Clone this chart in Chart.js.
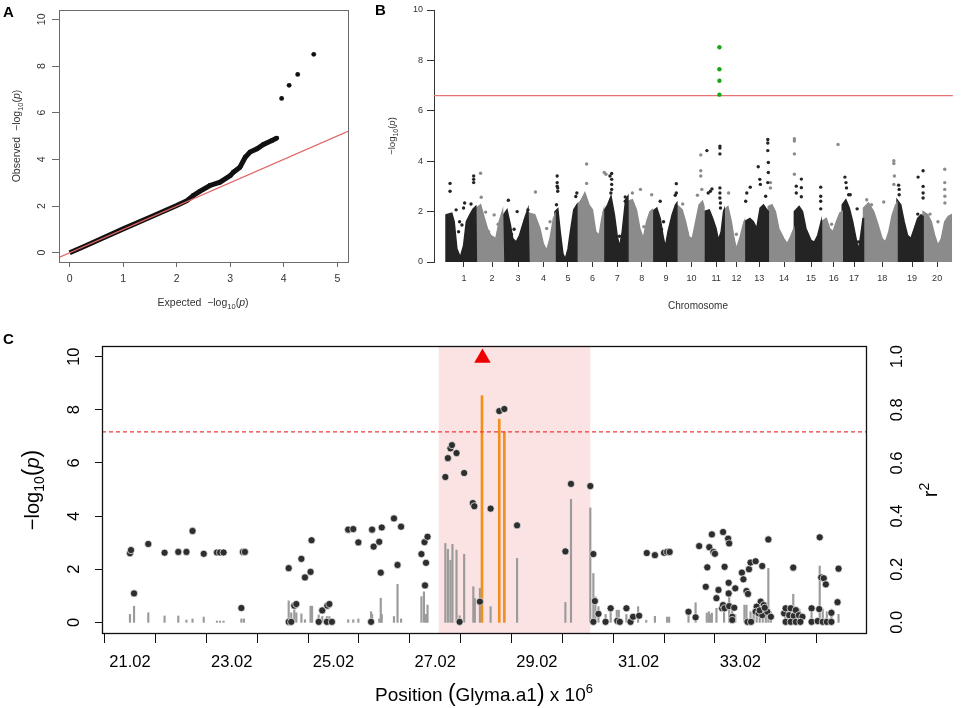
<!DOCTYPE html>
<html>
<head>
<meta charset="utf-8">
<script src="https://cdn.jsdelivr.net/npm/chart.js@4.4.1/dist/chart.umd.min.js"></script>
<style>
  body { margin: 0; background: #fff; width: 964px; height: 708px; position: relative; overflow: hidden;
         font-family: "Liberation Sans", Arial, Helvetica, sans-serif; }
  .panel { position: absolute; }
  .tag { position: absolute; font-weight: bold; font-size: 15px; line-height: 15px; z-index: 5; }
</style>
</head>
<body>
<div class="tag" style="left:3px;top:4px">A</div>
<div class="tag" style="left:375px;top:2px">B</div>
<div class="tag" style="left:3px;top:331px">C</div>
<div class="panel" style="left:0;top:0;width:360px;height:315px"><canvas id="qq"></canvas></div>
<div class="panel" style="left:360px;top:0;width:604px;height:315px"><canvas id="manhattan"></canvas></div>
<div class="panel" style="left:0;top:310px;width:964px;height:398px"><canvas id="region"></canvas></div>
<script>
// ---- A: QQ plot ----
const qqExpected = [0, 0.3, 0.6, 1.0, 1.5, 2.0, 2.19, 2.31, 2.43, 2.62, 2.81, 3.0, 3.06, 3.18, 3.28, 3.37, 3.5, 3.62, 3.78, 3.87];
const qqObserved = [0, 0.3, 0.61, 1.02, 1.52, 2.02, 2.23, 2.45, 2.63, 2.88, 3.02, 3.3, 3.45, 3.66, 4.09, 4.31, 4.45, 4.64, 4.81, 4.91];
const qqTopExpected = [3.96, 4.10, 4.26, 4.56];
const qqTopObserved = [6.61, 7.17, 7.64, 8.50];
const qqXTicks = [0, 1, 2, 3, 4, 5];
const qqYTicks = [0, 2, 4, 6, 8, 10];

// ---- B: Manhattan plot (x in cumulative Mb) ----
const chrLabels = ['1','2','3','4','5','6','7','8','9','10','11','12','13','14','15','16','17','18','19','20'];
const chrTickPos = [33.7, 86.5, 135.5, 183.3, 229.2, 275.6, 322.1, 368, 413.8, 461.6, 508, 546.4, 589, 635.5, 686.4, 729.1, 767.3, 820.1, 876.2, 923.4];
const chrEnvelopes = [
  [[0,0],[0,1.87],[10.8,1.94],[15.3,1.6],[20.4,0.52],[26.8,0.19],[33.1,0.66],[38.2,1.6],[44.6,1.87],[51,2.1],[56,2.2],[57,0]],
  [[57,0],[57,2.14],[65,2.27],[71.3,1.8],[77.7,1.33],[84,1.06],[93.6,0.93],[100,1.6],[106.3,2.03],[108,0]],
  [[108,0],[108,1.87],[114.7,2.07],[121,1.47],[125.5,0.93],[131.8,0.79],[138.2,1.06],[147.8,1.73],[154.1,2.11],[156,0]],
  [[156,0],[156,1.94],[166.9,1.87],[176.5,1.33],[182.8,0.73],[189.2,0.46],[195.6,0.93],[202,1.73],[205,1.87],[205,0]],
  [[205,0],[205,2.0],[210.2,2.11],[214.7,1.2],[219.8,0.32],[224.3,0.12],[229.4,0.52],[233.8,1.2],[240.2,2.07],[246,2.27],[246,0]],
  [[246,0],[246,2.27],[252.9,2.41],[261.1,2.74],[268.8,2.27],[275.2,2.07],[281.5,1.2],[287.9,1.06],[293,1.73],[296,2.0],[296,0]],
  [[296,0],[296,2.0],[303.9,2.27],[310.2,2.61],[316.6,1.87],[321.7,1.06],[326.2,0.59],[331.3,1.2],[337.7,2.47],[342,2.61],[342,0]],
  [[342,0],[342,2.41],[350.4,2.47],[358,2.07],[364.4,1.33],[370.8,0.93],[377.2,1.6],[383.5,2.0],[388,2.07],[388,0]],
  [[388,0],[388,2.0],[396.3,2.14],[402.7,1.73],[407.8,1.06],[412.3,0.59],[417.4,1.2],[425,1.87],[431.4,2.27],[434,2.34],[434,0]],
  [[434,0],[434,2.27],[444,2.07],[450.4,1.6],[456.8,1.0],[463.1,0.93],[469.5,1.6],[475.9,2.27],[482.2,2.41],[485,2.2],[485,0]],
  [[485,0],[485,2.0],[495,2.07],[501.4,1.73],[507.7,1.33],[512.2,0.86],[517.3,1.2],[521.8,2.0],[523,2.07],[523,0]],
  [[523,0],[523,2.07],[530,2.2],[536.4,1.6],[541.5,0.93],[546,0.52],[552.3,0.93],[558.7,1.47],[561,1.6],[561,0]],
  [[561,0],[561,1.6],[571.4,1.73],[577.8,1.6],[584.2,1.33],[590.6,2.14],[596.9,2.27],[603.3,2.07],[606,2.0],[606,0]],
  [[606,0],[606,2.2],[612.8,2.27],[619.2,2.0],[625.6,1.33],[635.1,0.93],[641.5,0.73],[647.9,1.0],[654.2,1.33],[655,1.2],[655,0]],
  [[655,0],[655,2.0],[663.9,2.2],[670.3,2.0],[676.7,1.33],[686.2,0.86],[692.6,0.79],[699,1.06],[705.3,1.6],[706,1.67],[706,0]],
  [[706,0],[706,1.6],[714.9,1.73],[721.3,1.33],[727.7,1.2],[734,1.6],[740.4,1.94],[745,2.0],[745,0]],
  [[745,0],[745,2.27],[751.8,2.47],[758.2,2.14],[764.6,1.6],[770.9,0.93],[775.4,0.46],[779.8,1.06],[784,1.73],[785,1.73],[785,0]],
  [[785,0],[785,2.14],[794.4,2.34],[804,2.0],[810.4,1.6],[819.9,0.93],[826.3,0.79],[832.6,1.2],[839,1.87],[845.4,2.27],[848,2.34],[848,0]],
  [[848,0],[848,2.47],[855,2.27],[861.4,1.6],[867.7,1.06],[874.1,0.93],[880.5,1.33],[886.8,1.73],[893.2,1.87],[897,1.8],[897,0]],
  [[897,0],[897,2.0],[905.9,1.87],[912.3,1.6],[918.6,1.06],[925,0.66],[931.4,0.93],[937.7,1.6],[944.1,1.8],[950,1.87],[950,0]]
];
const peaksBlack = [
  [7.6,3.12],[7.6,2.81],[19,2.07],[33,2.14],[35,2.34],[25.5,1.6],[30,1.47],[23.6,1.2],[52,3.41],[52,3.28],[52,3.15],[47,2.3],
  [117.2,2.45],[133.8,2.0],[128,1.3],[123,1.1],[154,2.07],
  [209,3.41],[209,3.15],[209,3.01],[210,2.94],[210,2.81],[207.7,2.27],[246,2.74],[244,2.6],
  [311.5,3.51],[311.5,3.28],[311.5,3.08],[311.5,2.88],[310,2.74],[308.3,3.41],[326.2,1.02],[337,2.58],[337,2.41],
  [402.7,2.41],[433,3.11],[433,2.74],[431,2.65],[409,1.6],[405,1.3],
  [490.5,4.42],[497,2.81],[493,2.74],[500,2.9],[515,4.6],[515,4.52],[515,4.29],[515,2.94],[515,2.74],[515,2.54],[516,2.34],[516,2.14],[516,1.0],
  [563.5,2.41],[565.5,2.74],[572,2.97],[587,3.78],[590,3.28],[591,3.08],[605,4.86],[605,4.72],[605,4.42],[606,3.95],[606,3.55],[605,3.15],[601,2.61],
  [658.6,3.01],[658.6,2.74],[668.1,3.29],[668.1,2.95],[668.1,2.59],[704.5,2.97],[704.5,2.61],[704.5,2.41],[704.5,2.11],
  [750,3.37],[752,3.15],[753,2.94],[757,2.67],[760,2.67],[773,2.11],[775,0.8],
  [851,3.05],[852,2.88],[852,2.67],[887.6,3.37],[887,1.9],[897,3.62],[897,3.0],[897,2.74],[897,2.54]
];
const peaksGray = [
  [65,3.52],[66.2,2.57],[74.5,1.98],[90.5,1.87],[80,1.2],[98,1.5],
  [168.2,2.78],[189.2,1.33],[195.6,1.6],[175,1.1],
  [264.3,3.89],[264.3,3.12],[259.3,2.54],[278,0.52],[297.5,3.55],[300.7,3.48],[255,2.4],
  [350.4,2.74],[365.6,2.88],[386.7,2.67],[354.8,1.94],[372,1.4],
  [479,4.25],[479,3.62],[479,3.41],[481,2.88],[472.7,2.65],[453.5,1.13],[445,2.3],
  [531.3,2.74],[536,1.3],[540,0.9],[546,1.1],
  [610,3.15],[610,2.94],[638,0.59],[655,4.89],[655,4.8],[655,4.29],[655,3.48],
  [737.1,4.66],[715,1.6],[725,1.5],
  [842,4.02],[842,3.91],[843,3.41],[842,3.08],[823,2.38],[791,2.47],[800,2.27],
  [937.7,3.68],[937.7,3.15],[937.7,2.88],[938,2.61],[938,2.34],[925,1.6],[910,1.9]
];
const peaksSignificant = [[514,8.52],[514,7.65],[514,7.19],[514,6.64]];
const mhThreshold = 6.6;

// ---- C: regional plot ----
const snpPoints = [
  [21.02,2.60],[21.04,2.72],[21.10,1.09],[21.38,2.95],[21.70,2.62],[21.97,2.65],[22.13,2.65],[22.25,3.44],[22.47,2.58],
  [22.73,2.63],[22.79,2.63],[22.86,2.63],[23.21,0.54],[23.24,2.65],[23.28,2.65],
  [24.14,2.04],[24.14,0.02],[24.19,0.02],[24.25,0.63],[24.29,0.69],[24.39,2.39],[24.46,1.69],[24.57,1.90],[24.59,3.09],
  [24.73,0.02],[24.80,0.45],[24.89,0.02],[24.90,0.63],[24.94,0.69],[24.99,0.02],
  [25.31,3.49],[25.41,3.51],[25.51,3.01],[25.76,0.02],[25.78,3.49],[25.81,2.85],[25.92,3.03],[25.95,1.87],[25.97,3.57],
  [26.21,3.91],[26.28,2.16],[26.35,3.60],[26.75,2.57],[26.81,3.02],[26.82,1.39],[26.84,2.24],[26.87,3.22],
  [27.22,5.47],[27.27,6.18],[27.32,6.55],[27.35,6.67],[27.44,6.37],[27.50,0.02],[27.59,5.62],[27.76,4.49],[27.79,4.37],
  [27.90,0.78],[28.11,4.28],[28.28,7.95],[28.38,8.03],[28.63,3.65],
  [29.58,2.67],[29.69,5.21],[30.07,5.13],[30.13,2.57],[30.13,0.02],[30.16,0.80],[30.23,0.32],[30.37,0.02],[30.47,0.53],
  [30.60,0.06],[30.65,0.02],[30.78,0.53],[30.86,0.02],[30.91,0.21],[31.03,0.25],
  [31.18,2.61],[31.34,2.53],[31.52,2.62],[31.58,2.65],[31.63,2.65],
  [32.00,0.40],[32.14,0.19],[32.21,2.87],[32.34,1.34],[32.37,2.07],[32.41,2.83],[32.46,3.31],[32.49,2.65],[32.52,2.58],
  [32.55,0.91],[32.59,1.22],[32.66,0.53],[32.68,3.40],[32.68,0.65],[32.71,2.09],[32.71,0.53],[32.78,3.15],[32.79,1.49],
  [32.79,1.09],[32.80,2.97],[32.80,0.61],[32.86,0.21],[32.86,0.09],[32.90,0.55],[32.92,1.28],
  [33.05,1.87],[33.08,1.62],[33.14,1.18],[33.16,0.02],[33.17,1.07],[33.19,2.00],[33.22,2.25],[33.23,0.02],[33.32,2.30],
  [33.45,2.12],[33.57,3.12],[33.42,0.78],[33.48,0.65],[33.34,0.59],[33.32,0.40],[33.38,0.34],[33.45,0.27],[33.55,0.40],
  [33.62,0.21],[33.40,0.45],[33.50,0.55],
  [33.88,0.34],[33.91,0.53],[33.98,0.27],[34.01,0.53],[34.06,2.06],[34.07,0.24],[34.11,0.46],[34.17,0.27],[34.24,0.21],
  [33.91,0.02],[34.01,0.02],[34.11,0.02],[34.20,0.02],
  [34.42,0.53],[34.42,0.02],[34.54,0.05],[34.57,0.50],[34.58,3.20],[34.61,1.69],[34.66,1.66],[34.70,1.43],[34.64,0.02],
  [34.72,0.02],[34.81,0.36],[34.81,0.02],[34.93,0.76],[34.95,2.02]
];
const ldBars = [
  [21.02,0.03],[21.10,0.061],[21.38,0.036],[21.70,0.024],[21.97,0.024],[22.13,0.009],[22.25,0.013],[22.47,0.020],
  [22.73,0.005],[22.79,0.005],[22.86,0.005],[23.21,0.013],[23.26,0.013],
  [24.14,0.081],[24.19,0.036],[24.25,0.046],[24.29,0.036],[24.39,0.032],[24.46,0.010],[24.57,0.061],[24.60,0.061],
  [24.73,0.028],[24.80,0.022],[24.89,0.022],[24.94,0.022],[24.99,0.010],[25.31,0.010],[25.41,0.010],[25.51,0.013],
  [25.76,0.040],[25.78,0.030],[25.92,0.013],[25.95,0.091],[25.97,0.030],[26.21,0.022],[26.28,0.143],[26.35,0.013],
  [26.75,0.097],[26.80,0.115],[26.84,0.030],[26.87,0.065],
  [27.22,0.297],[27.27,0.275],[27.32,0.234],[27.36,0.294],[27.44,0.272],[27.50,0.025],[27.59,0.256],[27.77,0.134],
  [27.80,0.090],[27.90,0.128],[28.11,0.059],[28.63,0.241],[29.58,0.075],[29.69,0.463],[30.07,0.431],[30.13,0.184],
  [30.17,0.096],[30.23,0.059],[30.37,0.03],[30.47,0.05],[30.59,0.046],[30.63,0.046],[30.78,0.03],[30.91,0.03],
  [31.01,0.059],[31.17,0.008],[31.34,0.023],[31.58,0.02],[31.62,0.02],
  [32.00,0.04],[32.14,0.074],[32.36,0.035],[32.40,0.04],[32.43,0.03],[32.46,0.035],[32.55,0.053],[32.70,0.04],
  [32.80,0.115],[32.86,0.05],[32.92,0.03],[33.10,0.065],[33.14,0.065],
  [33.22,0.04],[33.28,0.05],[33.34,0.06],[33.40,0.05],[33.46,0.04],[33.52,0.05],[33.57,0.203],[33.62,0.04],
  [33.90,0.04],[33.96,0.05],[34.01,0.03],[34.06,0.106],[34.12,0.04],[34.18,0.05],
  [34.42,0.05],[34.58,0.212],[34.64,0.05],[34.72,0.04],[34.81,0.05],[34.95,0.03]
];
const leadLdBars = [[27.94,0.853],[28.28,0.765],[28.38,0.717]];
const leadSnp = [[27.95,9.95]];
const cThreshold = 7.17;
const qtlStart = 27.09, qtlEnd = 30.07;
const posTicks = [21.02,22.02,23.02,24.02,25.02,26.02,27.02,28.02,29.02,30.02,31.02,32.02,33.02,34.02];
const posTickLabels = ['21.02','','23.02','','25.02','','27.02','','29.02','','31.02','','33.02',''];
const pTicks = [0, 2, 4, 6, 8, 10];
const r2Ticks = [0, 0.2, 0.4, 0.6, 0.8, 1.0];

// ---- shared helpers ----
const fam = '"Liberation Sans", Arial, Helvetica, sans-serif';
Chart.defaults.font.family = fam;
Chart.defaults.animation = false;
Chart.defaults.plugins.legend.display = false;
Chart.defaults.plugins.tooltip.enabled = false;

function fnt(p) { return (p.st || '') + ' ' + p.s + 'px ' + fam; }

// text with mixed sizes (subscripts, italic p), centred on x,y
function drawRich(ctx, parts, x, y, rot, color) {
  ctx.save();
  ctx.translate(x, y);
  if (rot) ctx.rotate(rot);
  ctx.fillStyle = color;
  ctx.textBaseline = 'alphabetic';
  ctx.textAlign = 'left';
  let w = 0;
  parts.forEach(p => { ctx.font = fnt(p); w += ctx.measureText(p.t).width; });
  const base = parts[0].s * 0.36;
  let cx = -w / 2;
  parts.forEach(p => {
    ctx.font = fnt(p);
    ctx.fillText(p.t, cx, base + (p.dy || 0));
    cx += ctx.measureText(p.t).width;
  });
  ctx.restore();
}

const decorCfg = {};
const decor = {
  id: 'decor',
  beforeDatasetsDraw(chart) {
    const c = decorCfg[chart.canvas.id];
    if (!c || !c.band) return;
    const ctx = chart.ctx, a = chart.chartArea, xs = chart.scales.x;
    const x1 = xs.getPixelForValue(c.band.from), x2 = xs.getPixelForValue(c.band.to);
    ctx.save();
    ctx.fillStyle = c.band.color;
    ctx.fillRect(x1, a.top, x2 - x1, a.bottom - a.top);
    ctx.restore();
  },
  afterDraw(chart) {
    const c = decorCfg[chart.canvas.id];
    if (!c) return;
    const ctx = chart.ctx, a = chart.chartArea;
    if (c.box) {
      ctx.save();
      ctx.strokeStyle = c.box.color;
      ctx.lineWidth = c.box.width;
      ctx.strokeRect(Math.round(a.left) + 0.5, Math.round(a.top) + 0.5, Math.round(a.right - a.left), Math.round(a.bottom - a.top));
      ctx.restore();
    }
    (c.rotTicks || []).forEach(r => {
      const s = chart.scales[r.axis];
      ctx.save();
      ctx.font = r.size + 'px ' + fam;
      ctx.fillStyle = r.color;
      ctx.textAlign = 'center';
      ctx.textBaseline = 'middle';
      s.ticks.forEach(t => {
        const y = s.getPixelForValue(t.value);
        const x = r.side === 'right' ? a.right + r.offset : a.left - r.offset;
        ctx.save();
        ctx.translate(x, y);
        ctx.rotate(-Math.PI / 2);
        ctx.fillText(r.decimals ? t.value.toFixed(r.decimals) : String(t.value), 0, 0);
        ctx.restore();
      });
      ctx.restore();
    });
    (c.titles || []).forEach(t => drawRich(ctx, t.parts, t.x, t.y, t.rot, t.color));
  }
};
Chart.register(decor);

const setTicks = vals => scale => { scale.ticks = vals.map(v => ({ value: v })); };
const tickMarks = (len, color) => ({ display: true, drawOnChartArea: false, drawTicks: true, tickLength: len, color: color, lineWidth: 1 });

// ---- A ----
decorCfg.qq = {
  box: { color: '#6b6b6b', width: 1 },
  rotTicks: [{ axis: 'y', side: 'left', offset: 17, size: 10.5, color: '#333' }],
  titles: [
    { x: 16, y: 136, rot: -Math.PI / 2, color: '#333', parts: [
      { t: 'Observed  \u2212log', s: 10.5 }, { t: '10', s: 7.5, dy: 3 }, { t: '(', s: 10.5 }, { t: 'p', s: 10.5, st: 'italic' }, { t: ')', s: 10.5 }] },
    { x: 203, y: 302, rot: 0, color: '#333', parts: [
      { t: 'Expected  \u2212log', s: 10.5 }, { t: '10', s: 7.5, dy: 3 }, { t: '(', s: 10.5 }, { t: 'p', s: 10.5, st: 'italic' }, { t: ')', s: 10.5 }] }
  ]
};
new Chart(document.getElementById('qq'), {
  type: 'scatter',
  data: {
    datasets: [
      { type: 'line', data: [{ x: -0.2, y: -0.2 }, { x: 5.2, y: 5.2 }], borderColor: '#e06666', borderWidth: 1.2, pointRadius: 0, order: 1 },
      { type: 'line', data: qqExpected.map((x, i) => ({ x: x, y: qqObserved[i] })), borderColor: '#111', borderWidth: 5,
        pointRadius: qqExpected.map(x => x > 2.2 ? 2.4 : 0), pointBackgroundColor: '#111', pointBorderWidth: 0, tension: 0, order: 3 },
      { data: qqTopExpected.map((x, i) => ({ x: x, y: qqTopObserved[i] })), pointRadius: 2.4, backgroundColor: '#111', borderWidth: 0, order: 2 }
    ]
  },
  options: {
    responsive: true, maintainAspectRatio: false,
    layout: { padding: { top: 10, right: 12, left: 0, bottom: 0 } },
    scales: {
      x: { type: 'linear', min: -0.2, max: 5.2, afterBuildTicks: setTicks(qqXTicks), afterFit: s => { s.height = 53; },
           border: { display: false }, grid: tickMarks(5, '#6b6b6b'),
           ticks: { color: '#333', font: { size: 10.5 }, padding: 6, maxRotation: 0, autoSkip: false } },
      y: { type: 'linear', min: -0.4, max: 10.4, afterBuildTicks: setTicks(qqYTicks), afterFit: s => { s.width = 59; },
           border: { display: false }, grid: tickMarks(7, '#6b6b6b'), ticks: { display: false } }
    }
  }
});

// ---- B ----
const mhBlack = '#242424', mhGray = '#8b8b8b';
decorCfg.manhattan = {
  titles: [
    { x: 32, y: 136, rot: -Math.PI / 2, color: '#333', parts: [
      { t: '\u2212log', s: 9.5 }, { t: '10', s: 7, dy: 2.5 }, { t: '(', s: 9.5 }, { t: 'p', s: 9.5, st: 'italic' }, { t: ')', s: 9.5 }] },
    { x: 338, y: 305, rot: 0, color: '#333', parts: [{ t: 'Chromosome', s: 10 }] }
  ]
};
const envDatasets = chrEnvelopes.map((pts, i) => ({
  type: 'line',
  data: pts.map(p => ({ x: p[0], y: p[1] })),
  borderColor: i % 2 ? mhGray : mhBlack,
  backgroundColor: i % 2 ? mhGray : mhBlack,
  borderWidth: 1.5, pointRadius: 0, fill: 'origin', tension: 0, order: 5
}));
new Chart(document.getElementById('manhattan'), {
  type: 'scatter',
  data: {
    datasets: envDatasets.concat([
      { data: peaksBlack.map(p => ({ x: p[0], y: p[1] })), pointRadius: 1.7, backgroundColor: mhBlack, borderWidth: 0, order: 4 },
      { data: peaksGray.map(p => ({ x: p[0], y: p[1] })), pointRadius: 1.7, backgroundColor: mhGray, borderWidth: 0, order: 4 },
      { type: 'line', data: [{ x: -22.6, y: mhThreshold }, { x: 953, y: mhThreshold }], borderColor: '#e57373', borderWidth: 1.2, pointRadius: 0, order: 3 },
      { data: peaksSignificant.map(p => ({ x: p[0], y: p[1] })), pointRadius: 2.2, backgroundColor: '#16a816', borderWidth: 0, order: 2 }
    ])
  },
  options: {
    responsive: true, maintainAspectRatio: false,
    layout: { padding: { top: 10, right: 9, left: 0, bottom: 0 } },
    scales: {
      x: { type: 'linear', min: -22.6, max: 957, afterBuildTicks: setTicks(chrTickPos), afterFit: s => { s.height = 53; },
           border: { display: false }, grid: tickMarks(5, '#333'),
           ticks: { color: '#333', font: { size: 9 }, padding: 6, maxRotation: 0, autoSkip: false,
                    callback: (v, i) => chrLabels[i] } },
      y: { type: 'linear', min: 0, max: 10, afterFit: s => { s.width = 74; },
           border: { display: true, color: '#333', width: 1 }, grid: tickMarks(7, '#333'),
           ticks: { stepSize: 2, color: '#333', font: { size: 9 }, padding: 4 } }
    }
  }
});

// ---- C ----
decorCfg.region = {
  band: { from: qtlStart, to: qtlEnd, color: '#fbe3e4' },
  box: { color: '#111', width: 1.3 },
  rotTicks: [
    { axis: 'y', side: 'left', offset: 28, size: 16.5, color: '#000' },
    { axis: 'y2', side: 'right', offset: 31, size: 16.5, color: '#000', decimals: 1 }
  ],
  titles: [
    { x: 32, y: 180, rot: -Math.PI / 2, color: '#000', parts: [
      { t: '\u2212log', s: 20 }, { t: '10', s: 14, dy: 5 }, { t: '(', s: 23 }, { t: 'p', s: 20, st: 'italic' }, { t: ')', s: 23 }] },
    { x: 930, y: 180, rot: -Math.PI / 2, color: '#000', parts: [{ t: 'r', s: 20 }, { t: '2', s: 14, dy: -8 }] },
    { x: 484, y: 384, rot: 0, color: '#000', parts: [
      { t: 'Position ', s: 19 }, { t: '(', s: 23 }, { t: 'Glyma.a1', s: 19 }, { t: ')', s: 23 }, { t: ' x 10', s: 19 }, { t: '6', s: 13, dy: -8 }] }
  ]
};
new Chart(document.getElementById('region'), {
  type: 'scatter',
  data: {
    datasets: [
      { type: 'bar', data: ldBars.map(p => ({ x: p[0], y: p[1] })), yAxisID: 'y2', backgroundColor: '#9b9b9b',
        barThickness: 1.5, grouped: false, order: 5 },
      { type: 'bar', data: leadLdBars.map(p => ({ x: p[0], y: p[1] })), yAxisID: 'y2', backgroundColor: '#f0901e',
        barThickness: 2, grouped: false, order: 4 },
      { type: 'line', data: [{ x: 20.47, y: cThreshold }, { x: 35.49, y: cThreshold }], borderColor: '#f03a3a',
        borderDash: [4, 3], borderWidth: 1.3, pointRadius: 0, order: 3 },
      { data: snpPoints.map(p => ({ x: p[0], y: p[1] })), pointRadius: 3.6, backgroundColor: '#2e2e2e',
        borderColor: 'rgba(255,255,255,0.85)', borderWidth: 0.8, order: 2 },
      { data: leadSnp.map(p => ({ x: p[0], y: p[1] })), pointStyle: 'triangle', pointRadius: 9.5, backgroundColor: '#ee0000',
        borderWidth: 0, order: 1 }
    ]
  },
  options: {
    responsive: true, maintainAspectRatio: false,
    layout: { padding: { top: 36, right: 0, left: 0, bottom: 0 } },
    scales: {
      x: { type: 'linear', min: 20.47, max: 35.49, offset: false, afterBuildTicks: setTicks(posTicks), afterFit: s => { s.height = 75; },
           border: { display: false }, grid: tickMarks(10, '#111'),
           ticks: { color: '#000', font: { size: 16.5 }, padding: 10, maxRotation: 0, autoSkip: false,
                    callback: (v, i) => posTickLabels[i] } },
      y: { type: 'linear', position: 'left', min: -0.4, max: 10.4, afterBuildTicks: setTicks(pTicks), afterFit: s => { s.width = 102; },
           border: { display: false }, grid: tickMarks(7, '#111'), ticks: { display: false } },
      y2: { type: 'linear', position: 'right', min: -0.04, max: 1.04, afterBuildTicks: setTicks(r2Ticks), afterFit: s => { s.width = 98; },
            border: { display: false }, grid: { display: false }, ticks: { display: false } }
    }
  }
});
</script>
</body>
</html>
